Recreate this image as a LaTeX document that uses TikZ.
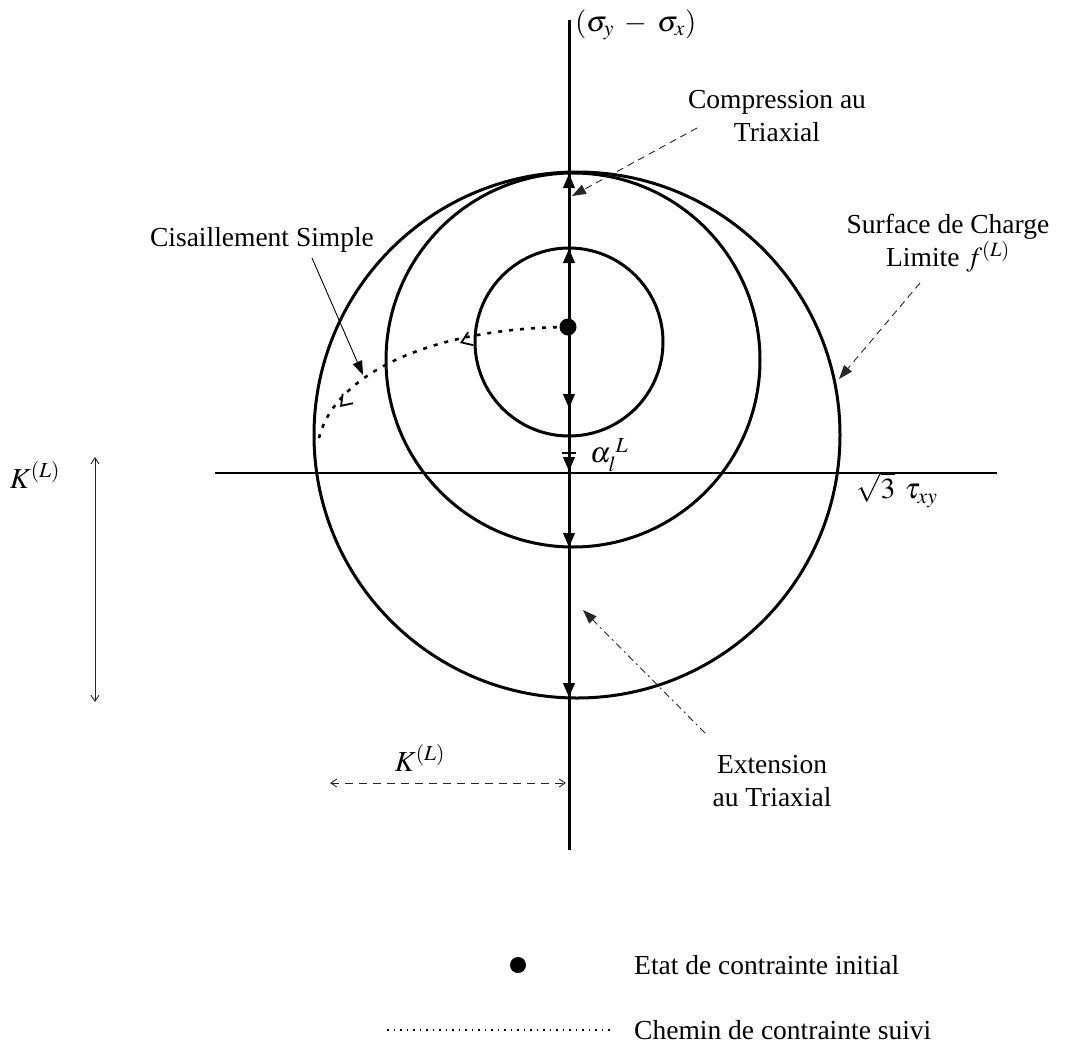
\documentclass[tikz,border=0pt]{standalone}
\usepackage{mathptmx}
\usepackage{fontspec}
\setmainfont{Liberation Serif}
\usetikzlibrary{arrows.meta}
\begin{document}
\begin{tikzpicture}[x=1pt,y=-1pt,
  lbl/.style={font=\fontsize{27.5}{32.5}\selectfont, inner sep=0pt, align=center},
  mlbl/.style={font=\fontsize{29}{33}\selectfont, inner sep=1pt},
  circ/.style={line width=3pt},
  axis/.style={line width=3pt},
  haxis/.style={line width=2pt},
  axtip/.style={-{Triangle[length=14pt,width=12pt]}, line width=1pt},
  thinarr/.style={line width=0.9pt, -{Triangle[length=14pt,width=10pt]}},
  dashedarr/.style={line width=0.9pt, black!85, dash pattern=on 7pt off 5pt, -{Triangle[length=14pt,width=10pt]}},
  dashdotarr/.style={line width=0.9pt, black!85, dash pattern=on 7pt off 4pt on 2pt off 4pt, -{Triangle[length=14pt,width=10pt]}},
  pathdots/.style={line width=2.6pt, dash pattern=on 4pt off 7pt},
  barb/.style={-{Straight Barb[length=10pt,width=14pt]}, line width=1.8pt},
  kline/.style={line width=0.9pt, black!85, {Straight Barb[length=6pt,width=8pt]}-{Straight Barb[length=6pt,width=8pt]}}
]
\useasboundingbox (0,0) rectangle (1080,1050);

% axes
\coordinate (vtop) at (569,20);
\coordinate (vbot) at (569,850);
\coordinate (hleft) at (215,473);
\coordinate (hright) at (997,473);
\draw[axis] (vtop) -- (vbot);
\draw[haxis] (hleft) -- (hright);

% circles
\coordinate (cbig) at (577,435);
\coordinate (cmed) at (573,360);
\coordinate (csmall) at (569,342);
\draw[circ] (cbig) circle[radius=263pt];
\draw[circ] (cmed) circle[radius=187pt];
\draw[circ] (csmall) circle[radius=94pt];

% arrowheads on the vertical axis
\draw[axtip] (569,176) -- (569,174);
\draw[axtip] (569,251) -- (569,249);
\draw[axtip] (569,406) -- (569,408);
\draw[axtip] (569,469) -- (569,471);
\draw[axtip] (569,545) -- (569,547);
\draw[axtip] (569,695) -- (569,697);
\draw[line width=2pt] (562,453) -- (576,453);

% initial stress state
\node[circle, fill=black, minimum size=17pt, inner sep=0pt] (dot) at (568,327) {};

% stress path (dotted)
\coordinate (pend) at (318,443);
\draw[pathdots] (dot.center) .. controls (430,328) and (330,375) .. (pend);
\draw[barb] (463,341.8) -- (460,343);
\draw[barb] (342.3,404.5) -- (340,407);

% labels
\node[mlbl, anchor=west] (sig) at (574,25) {$(\sigma_{y}\;-\;\sigma_{x})$};
\node[mlbl] (tau) at (897,490) {$\sqrt{3}\;\,\tau_{xy}$};
\node[mlbl, anchor=west] (alpha) at (589,455) {$\alpha_{l}^{\;L}$};
\node[mlbl] (kv) at (35,475) {$K^{(L)}$};
\node[mlbl] (kh) at (420,758) {$K^{(L)}$};

\node[lbl] (comp) at (777,116) {Compression au\\Triaxial};
\node[lbl] (cis) at (262,240) {Cisaillement Simple};
\node[lbl] (surf) at (948,243) {Surface de Charge\\Limite $f^{(L)}$};
\node[lbl] (ext) at (772,781) {Extension\\au Triaxial};

% label arrows
\coordinate (compS) at (697,128);
\coordinate (compE) at (572,196);
\draw[dashedarr] (compS) -- (compE);

\coordinate (cisS) at (312,258);
\coordinate (cisE) at (363,375);
\draw[thinarr] (cisS) -- (cisE);

\coordinate (surfS) at (920,283);
\coordinate (surfE) at (839,379);
\draw[dashedarr] (surfS) -- (surfE);

\coordinate (extS) at (705,733);
\coordinate (extE) at (583,610);
\draw[dashdotarr] (extS) -- (extE);

% K dimensions
\coordinate (kvT) at (95,457);
\coordinate (kvB) at (95,702);
\draw[kline] (kvT) -- (kvB);
\coordinate (khL) at (330,783);
\coordinate (khR) at (566,783);
\draw[kline, dash pattern=on 8pt off 6pt] (khL) -- (khR);

% legend
\node[circle, fill=black, minimum size=16pt, inner sep=0pt] (ldot) at (518,965) {};
\node[lbl, anchor=west] (ltext1) at (634,965) {Etat de contrainte initial};
\coordinate (lpL) at (387,1030);
\coordinate (lpR) at (610,1030);
\draw[line width=1.3pt, dash pattern=on 1.5pt off 5pt] (lpL) -- (lpR);
\node[lbl, anchor=west] (ltext2) at (634,1030) {Chemin de contrainte suivi};
\end{tikzpicture}
\end{document}
